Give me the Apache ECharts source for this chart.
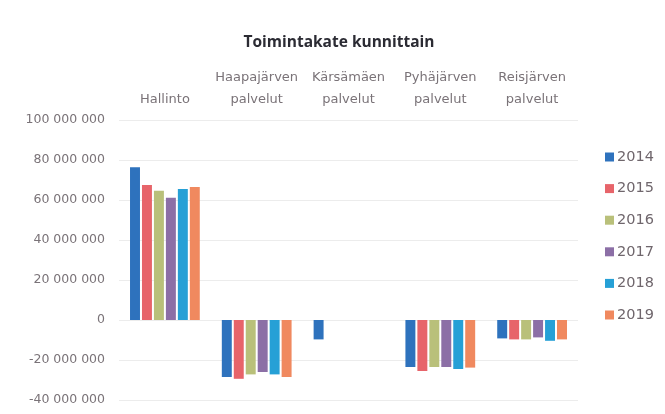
<!DOCTYPE html>
<html>
<head>
<meta charset="utf-8">
<script src="https://cdn.jsdelivr.net/npm/echarts@6/dist/echarts.min.js"></script>
<style>
html,body{margin:0;padding:0;background:#fff;}
#c{width:665px;height:414px;}
</style>
</head>
<body>
<div id="c"></div>
<script>
var categories = ['Hallinto', 'Haapajärven\npalvelut', 'Kärsämäen\npalvelut', 'Pyhäjärven\npalvelut', 'Reisjärven\npalvelut'];
var years = ['2014', '2015', '2016', '2017', '2018', '2019'];
var v2014 = [76400000, -28500000, -9700000, -23500000, -9200000];
var v2015 = [67500000, -29400000, null, -25500000, -9700000];
var v2016 = [64600000, -27200000, null, -23500000, -9700000];
var v2017 = [61100000, -26000000, null, -23500000, -8700000];
var v2018 = [65500000, -27200000, null, -24500000, -10400000];
var v2019 = [66500000, -28500000, null, -23800000, -9700000];
var yTicks = { min: -40000000, max: 100000000, interval: 20000000 };
var colors = ['#2e72bd', '#e7646a', '#b9c07a', '#8c6fa6', '#26a0d6', '#f0895f'];

var values = [v2014, v2015, v2016, v2017, v2018, v2019];
var chart = echarts.init(document.getElementById('c'), null, {renderer: 'canvas'});
function fmt(v) {
  var s = String(Math.abs(v));
  var out = s.replace(/\B(?=(\d{3})+(?!\d))/g, ' ');
  return (v < 0 ? '-' : '') + out;
}
chart.setOption({
  animation: false,
  color: colors,
  title: {
    text: 'Toimintakate kunnittain',
    left: 339, textAlign: 'center', top: 35, padding: 0,
    textStyle: { fontFamily: 'Open Sans', fontSize: 15.5, fontWeight: 'bold', color: '#2b2b33' }
  },
  legend: {
    orient: 'vertical',
    left: 605, top: 149, padding: 0,
    itemWidth: 9, itemHeight: 9, itemGap: 15.6,
    icon: 'rect',
    textStyle: { fontFamily: 'DejaVu Sans', fontSize: 14.5, color: '#6f666c', lineHeight: 16, padding: [0,0,0,-2] },
    data: years
  },
  grid: { left: 119, right: 87, top: 120, bottom: 14, containLabel: false },
  xAxis: {
    type: 'category',
    position: 'top',
    data: categories,
    axisLine: { show: false },
    axisTick: { show: false },
    axisLabel: { fontFamily: 'DejaVu Sans', fontSize: 13, color: '#7a7378', margin: 10, lineHeight: 21.6, interval: 0 }
  },
  yAxis: {
    type: 'value',
    min: yTicks.min, max: yTicks.max, interval: yTicks.interval,
    axisLine: { show: false },
    axisTick: { show: false },
    splitLine: { lineStyle: { color: '#ececec', width: 1 } },
    axisLabel: { fontFamily: 'DejaVu Sans', fontSize: 12.5, color: '#7a7378', margin: 14, formatter: fmt }
  },
  series: years.map(function (y, i) {
    return {
      name: y, type: 'bar', data: values[i],
      barGap: '20%', barCategoryGap: '24%',
      itemStyle: { color: colors[i] }
    };
  })
});
</script>
</body>
</html>
